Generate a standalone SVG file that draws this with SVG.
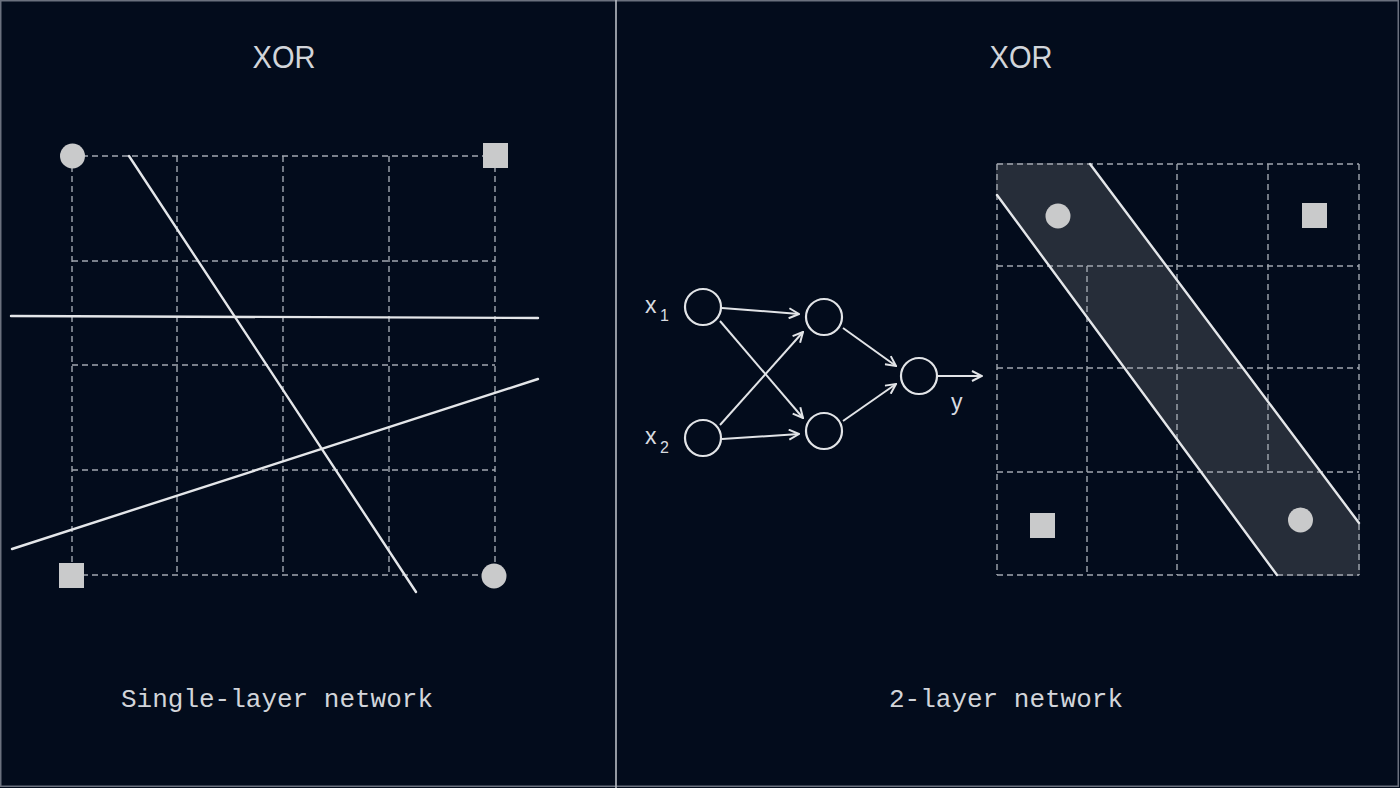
<svg xmlns="http://www.w3.org/2000/svg" width="1400" height="788" viewBox="0 0 1400 788">
  <defs>
    <style>
      .grid{stroke:#a2a7b0;stroke-width:1.4;stroke-dasharray:6 4;fill:none}
      .solid{stroke:#e4e6e9;stroke-width:2.4;fill:none;stroke-linecap:round}
      .dot{fill:#c9cacb}
      .node{fill:none;stroke:#e2e4e7;stroke-width:2.2}
      .edge{stroke:#e2e4e7;stroke-width:2;fill:none}
      .title{font-family:"Liberation Sans","DejaVu Sans",sans-serif;font-size:31px;fill:#d2d5da;text-anchor:middle}
      .cap{font-family:"Liberation Mono","DejaVu Sans Mono",monospace;font-size:26px;fill:#d2d5da;text-anchor:middle}
      .lbl{font-family:"Liberation Sans","DejaVu Sans",sans-serif;fill:#d8dbe0}
    </style>
    <marker id="arr" viewBox="0 0 12 12" refX="11" refY="6" markerWidth="12" markerHeight="12" markerUnits="userSpaceOnUse" orient="auto">
      <path d="M1,1 L11,6 L1,11" fill="none" stroke="#e2e4e7" stroke-width="2"/>
    </marker>
  </defs>

  <rect x="0" y="0" width="1400" height="788" fill="#030c1c"/>
  <rect x="0.75" y="0.75" width="1397.5" height="785.5" fill="none" stroke="#6b717e" stroke-width="1.5"/>
  <line x1="616" y1="0" x2="616" y2="788" stroke="#b9bdc5" stroke-width="1.6"/>

  <!-- Left panel -->
  <g id="left-panel">
    <text class="title" x="284" y="68" textLength="63" lengthAdjust="spacingAndGlyphs">XOR</text>
    <g id="left-grid">
      <line class="grid" x1="72" y1="156" x2="495" y2="156"/>
      <line class="grid" x1="72" y1="261" x2="495" y2="261"/>
      <line class="grid" x1="72" y1="365" x2="495" y2="365"/>
      <line class="grid" x1="72" y1="470" x2="495" y2="470"/>
      <line class="grid" x1="72" y1="575" x2="495" y2="575"/>
      <line class="grid" x1="72" y1="156" x2="72" y2="575"/>
      <line class="grid" x1="177" y1="156" x2="177" y2="575"/>
      <line class="grid" x1="283" y1="156" x2="283" y2="575"/>
      <line class="grid" x1="389" y1="156" x2="389" y2="575"/>
      <line class="grid" x1="495" y1="156" x2="495" y2="575"/>
    </g>
    <g id="left-boundaries">
      <line class="solid" x1="129" y1="156" x2="416" y2="592"/>
      <line class="solid" x1="11" y1="316" x2="538" y2="318"/>
      <line class="solid" x1="12" y1="549" x2="538" y2="379"/>
    </g>
    <g id="left-points">
      <circle class="dot" cx="72.5" cy="156" r="12.5"/>
      <rect class="dot" x="483" y="143" width="25" height="25"/>
      <rect class="dot" x="59" y="563" width="25" height="25"/>
      <circle class="dot" cx="494" cy="576" r="12.5"/>
    </g>
    <text class="cap" x="277" y="707">Single-layer network</text>
  </g>

  <!-- Right panel -->
  <g id="right-panel">
    <text class="title" x="1021" y="68" textLength="63" lengthAdjust="spacingAndGlyphs">XOR</text>

    <g id="nodes">
      <g id="x1">
        <circle class="node" cx="703" cy="307" r="18"/>
        <text class="lbl" x="645" y="313" font-size="23">x</text>
        <text class="lbl" x="660" y="321" font-size="16">1</text>
      </g>
      <g id="x2">
        <circle class="node" cx="703" cy="438" r="18"/>
        <text class="lbl" x="645" y="444" font-size="23">x</text>
        <text class="lbl" x="660" y="453" font-size="16">2</text>
      </g>
      <g id="h1"><circle class="node" cx="824" cy="317" r="18"/></g>
      <g id="h2"><circle class="node" cx="824" cy="431" r="18"/></g>
      <g id="out"><circle class="node" cx="919" cy="376" r="18"/></g>
      <g id="y-label"><text class="lbl" x="951" y="410" font-size="23">y</text></g>
    </g>

    <g id="connectors">
      <line class="edge" x1="722" y1="308" x2="799" y2="314" marker-end="url(#arr)"/>
      <line class="edge" x1="720" y1="321" x2="803" y2="418" marker-end="url(#arr)"/>
      <line class="edge" x1="720" y1="425" x2="803" y2="332" marker-end="url(#arr)"/>
      <line class="edge" x1="722" y1="439" x2="799" y2="434" marker-end="url(#arr)"/>
      <line class="edge" x1="843" y1="328" x2="896" y2="366" marker-end="url(#arr)"/>
      <line class="edge" x1="843" y1="421" x2="896" y2="384" marker-end="url(#arr)"/>
      <line class="edge" x1="938" y1="376" x2="982" y2="376" marker-end="url(#arr)"/>
    </g>

    <g id="right-grid">
      <polygon points="997,164 1090,164 1359,523 1359,575 1277,575 997,195" fill="#262d39" stroke="#262d39" stroke-width="2" stroke-linejoin="round"/>
      <line class="grid" x1="997" y1="164" x2="1359" y2="164"/>
      <line class="grid" x1="997" y1="266" x2="1359" y2="266"/>
      <line class="grid" x1="997" y1="368" x2="1359" y2="368"/>
      <line class="grid" x1="997" y1="472" x2="1359" y2="472"/>
      <line class="grid" x1="997" y1="575" x2="1359" y2="575"/>
      <line class="grid" x1="997" y1="164" x2="997" y2="575"/>
      <line class="grid" x1="1087" y1="266" x2="1087" y2="575"/>
      <line class="grid" x1="1177" y1="164" x2="1177" y2="575"/>
      <line class="grid" x1="1268" y1="164" x2="1268" y2="472"/>
      <line class="grid" x1="1359" y1="164" x2="1359" y2="575"/>
      <line class="solid" x1="1090" y1="164" x2="1359" y2="523"/>
      <line class="solid" x1="997" y1="195" x2="1277" y2="575"/>
    </g>
    <g id="right-points">
      <circle class="dot" cx="1058" cy="216" r="12.5"/>
      <rect class="dot" x="1302" y="203" width="25" height="25"/>
      <rect class="dot" x="1030" y="513" width="25" height="25"/>
      <circle class="dot" cx="1300.5" cy="520" r="12.5"/>
    </g>
    <text class="cap" x="1006" y="707">2-layer network</text>
  </g>
</svg>
